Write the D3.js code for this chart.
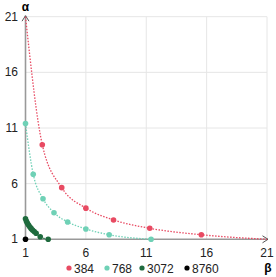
<!DOCTYPE html>
<html>
<head>
<meta charset="utf-8">
<script src="https://cdn.jsdelivr.net/npm/d3@7"></script>
<style>
  body { margin: 0; background: #fff; }
  text { font-family: "Liberation Sans", Arial, sans-serif; }
</style>
</head>
<body>
<svg id="chart" width="276" height="277"></svg>
<script>
// series names and colours
const seriesNames = ['384', '768', '3072', '8760'];
const seriesColors = ['#e84a62', '#6fd1b6', '#1f6b3e', '#000000'];

// marker points (beta, alpha)
const points384 = [[2.39, 9.5], [4.0, 5.64], [6.0, 3.8], [8.29, 2.74], [11.29, 1.99], [15.56, 1.41]];
const points768 = [[1, 11.4], [1.64, 6.85], [2.45, 4.65], [3.36, 3.39], [4.49, 2.56], [6.0, 1.93], [7.93, 1.41], [11.4, 1.0]];
const points3072 = [[1, 2.85], [1.08, 2.62], [1.16, 2.44], [1.25, 2.28], [1.35, 2.12], [1.46, 1.98], [1.58, 1.84], [1.72, 1.7], [1.88, 1.55], [2.22, 1.23], [2.88, 1.0]];
const points8760 = [[1, 1]];

// dotted trend curves (endpoints where the curve meets the axes)
const curve384 = [[1, 21], ...points384, [21, 1]];
const curve768 = points768;
const curve3072 = points3072;

const xTicks = [1, 6, 11, 16, 21];
const yTicks = [1, 6, 11, 16, 21];

const svg = d3.select('#chart');
const x = d3.scaleLinear().domain([1, 21]).range([25.5, 267]);
const y = d3.scaleLinear().domain([1, 21]).range([239.3, 16.7]);

// grid
svg.append('g').selectAll('line.gx')
  .data(xTicks.slice(1))
  .join('line')
  .attr('x1', d => x(d)).attr('x2', d => x(d))
  .attr('y1', y(21)).attr('y2', y(1))
  .attr('stroke', '#e6e6e6').attr('stroke-width', 1);
svg.append('g').selectAll('line.gy')
  .data(yTicks.slice(1))
  .join('line')
  .attr('x1', x(1)).attr('x2', x(21))
  .attr('y1', d => y(d)).attr('y2', d => y(d))
  .attr('stroke', '#e6e6e6').attr('stroke-width', 1);

// axes
const axisColor = '#999';
svg.append('line')
  .attr('x1', x(1)).attr('x2', x(1))
  .attr('y1', y(1)).attr('y2', y(21) - 1)
  .attr('stroke', axisColor).attr('stroke-width', 1.6);
svg.append('line')
  .attr('x1', x(1)).attr('x2', x(21) + 1)
  .attr('y1', y(1)).attr('y2', y(1))
  .attr('stroke', axisColor).attr('stroke-width', 1.6);
svg.append('path')
  .attr('d', `M${x(1) - 3.5},${y(21) + 4.5}L${x(1)},${y(21) - 1}L${x(1) + 3.5},${y(21) + 4.5}`)
  .attr('fill', 'none').attr('stroke', '#555').attr('stroke-width', 1);
svg.append('path')
  .attr('d', `M${x(21) - 4.5},${y(1) - 3.5}L${x(21) + 1},${y(1)}L${x(21) - 4.5},${y(1) + 3.5}`)
  .attr('fill', 'none').attr('stroke', '#555').attr('stroke-width', 1);

// tick labels
svg.append('g').selectAll('text')
  .data(yTicks)
  .join('text')
  .attr('x', 18).attr('y', d => y(d) + 4)
  .attr('text-anchor', 'end')
  .attr('font-size', 12).attr('fill', '#222')
  .text(d => d);
svg.append('g').selectAll('text')
  .data(xTicks)
  .join('text')
  .attr('x', d => x(d)).attr('y', 257)
  .attr('text-anchor', 'middle')
  .attr('font-size', 12).attr('fill', '#222')
  .text(d => d);

svg.append('text').attr('x', x(1)).attr('y', 11)
  .attr('text-anchor', 'middle').attr('font-size', 12).attr('font-weight', 'bold')
  .text('α');
svg.append('text').attr('x', 268).attr('y', 272)
  .attr('text-anchor', 'middle').attr('font-size', 12).attr('font-weight', 'bold')
  .text('β');

// curves
const line = d3.line().x(d => x(d[0])).y(d => y(d[1])).curve(d3.curveMonotoneX);
const curves = [curve384, curve768, curve3072];
curves.forEach((c, i) => {
  svg.append('path')
    .attr('d', line(c))
    .attr('fill', 'none')
    .attr('stroke', seriesColors[i])
    .attr('stroke-width', 1.3)
    .attr('stroke-dasharray', '1.5,1.5');
});

// markers
const allPoints = [points384, points768, points3072, points8760];
allPoints.forEach((pts, i) => {
  svg.append('g').selectAll('circle')
    .data(pts)
    .join('circle')
    .attr('cx', d => x(d[0])).attr('cy', d => y(d[1]))
    .attr('r', 2.8)
    .attr('fill', seriesColors[i]);
});

// legend
const legendX = [69, 107, 142, 187];
const legend = svg.append('g').selectAll('g')
  .data(seriesNames)
  .join('g')
  .attr('transform', (d, i) => `translate(${legendX[i]},268)`);
legend.append('circle').attr('r', 2.6).attr('fill', (d, i) => seriesColors[i]);
legend.append('text').attr('x', 5).attr('y', 4.5)
  .attr('font-size', 12).attr('fill', '#222')
  .text(d => d);
</script>
</body>
</html>
